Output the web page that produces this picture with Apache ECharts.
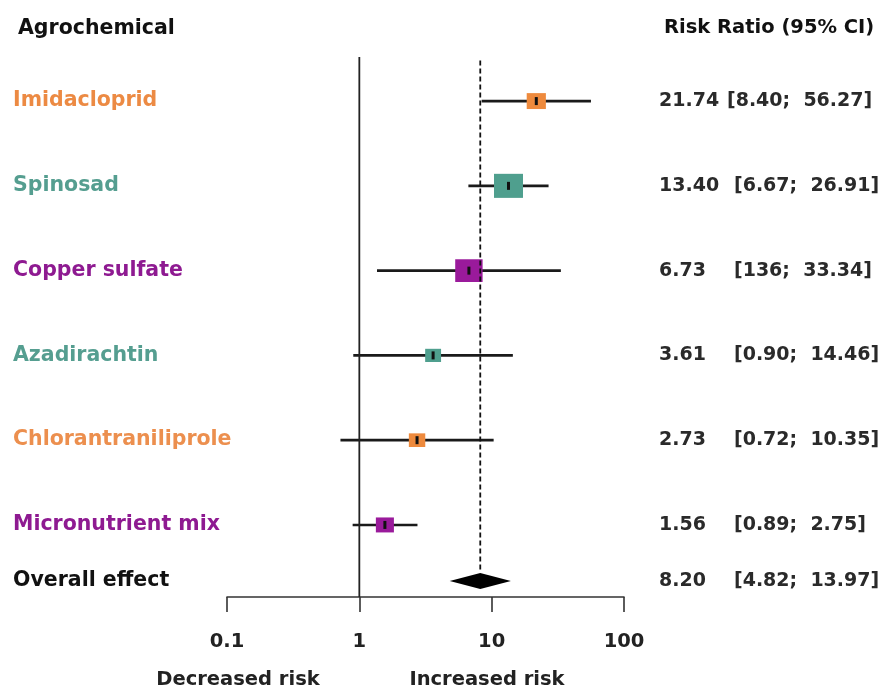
<!DOCTYPE html>
<html lang="en">
<head>
    <meta charset="utf-8">
    <title>Forest plot</title>
    <script src="https://cdn.jsdelivr.net/npm/echarts@6/dist/echarts.min.js"></script>
    <style>
        html, body {margin: 0; padding: 0; background: #fff;}
        #main {width: 887px; height: 690px;}
    </style>
</head>
<body>
<div id="main"></div>
<script type="text/javascript">
    // data
    var agrochemicals = ['Imidacloprid', 'Spinosad', 'Copper sulfate', 'Azadirachtin', 'Chlorantraniliprole', 'Micronutrient mix'];
    var riskRatio = [21.74, 13.40, 6.73, 3.61, 2.73, 1.56];
    var ciLower = [8.40, 6.67, 1.36, 0.90, 0.72, 0.89];
    var ciUpper = [56.27, 26.91, 33.34, 14.46, 10.35, 2.75];
    var weights = [13.1, 29.9, 26.7, 9.0, 9.6, 11.6];   // study weights (%), drive box size
    var estLabels = ['21.74', '13.40', '6.73', '3.61', '2.73', '1.56'];
    var ciLabels = ['[8.40;  56.27]', '[6.67;  26.91]', '[136;  33.34]', '[0.90;  14.46]', '[0.72;  10.35]', '[0.89;  2.75]'];
    var overallRR = 8.20;
    var overallCI = [4.82, 13.97];
    var overallLabels = ['8.20', '[4.82;  13.97]'];
    var xTicks = [0.1, 1, 10, 100];

    var colors = ['#ee8a3d', '#4f9f8e', '#9a1a9b', '#4f9f8e', '#ee8a3d', '#9a1a9b'];
    var labelColors = ['#ec8a43', '#559e90', '#8e1a91', '#559e90', '#ec8f4e', '#8e1a91'];
    var FONT = '"DejaVu Sans", "Open Sans", sans-serif';
    var yMin = -0.52, yMax = 5.85, overallRow = 5.66;

    var rows = [];
    for (var i = 0; i < riskRatio.length; i++) {
        rows.push([riskRatio[i], i, ciLower[i], ciUpper[i], weights[i], i]);
    }

    function txt(s, x, y, color, size) {
        return {
            type: 'text',
            style: {
                text: s, x: x, y: y, fill: color,
                fontSize: size || 20.5, fontWeight: 'bold', fontFamily: FONT,
                verticalAlign: 'middle', align: 'left'
            }
        };
    }

    function renderStudy(params, api) {
        var i = api.value(5);
        var row = api.value(1);
        var est = api.coord([api.value(0), row]);
        var lo = api.coord([api.value(2), row]);
        var hi = api.coord([api.value(3), row]);
        var w = 5.3 * Math.sqrt(api.value(4));
        var h = w * 0.83;
        return {
            type: 'group',
            children: [
                {type: 'line', shape: {x1: lo[0], y1: lo[1], x2: hi[0], y2: hi[1]},
                    style: {stroke: '#1a1a1a', lineWidth: 2.6}},
                {type: 'rect', shape: {x: est[0] - w / 2, y: est[1] - h / 2, width: w, height: h},
                    style: {fill: colors[i]}},
                {type: 'rect', shape: {x: est[0] - 1.5, y: est[1] - 4, width: 3, height: 8},
                    style: {fill: '#111'}},
                txt(agrochemicals[i], 13, est[1], labelColors[i]),
                txt(estLabels[i], 659, est[1], '#2a2a2a', 19),
                txt(ciLabels[i], i === 0 ? 727 : 734, est[1], '#2a2a2a', 19)
            ]
        };
    }

    function renderOverall(params, api) {
        var row = api.value(1);
        var c = api.coord([api.value(0), row]);
        var lo = api.coord([api.value(2), row]);
        var hi = api.coord([api.value(3), row]);
        var hh = 8;
        return {
            type: 'group',
            children: [
                {type: 'polygon', shape: {points: [[lo[0], c[1]], [c[0], c[1] - hh], [hi[0], c[1]], [c[0], c[1] + hh]]},
                    style: {fill: '#000'}},
                txt('Overall effect', 13, c[1], '#111'),
                txt(overallLabels[0], 659, c[1], '#2a2a2a', 19),
                txt(overallLabels[1], 734, c[1], '#2a2a2a', 19)
            ]
        };
    }

    var myChart = echarts.init(document.getElementById('main'));
    var option = {
        animation: false,
        grid: {left: 227, right: 263, top: 57, bottom: 93},
        xAxis: {
            type: 'log',
            logBase: 10,
            position: 'bottom',
            min: xTicks[0],
            max: xTicks[xTicks.length - 1],
            axisLine: {show: true, onZero: false, lineStyle: {color: '#333', width: 1.6}},
            axisTick: {show: true, length: 15, lineStyle: {color: '#333', width: 1.6}},
            splitLine: {show: false},
            minorTick: {show: false},
            axisLabel: {
                margin: 35, color: '#222', fontSize: 19.5, fontWeight: 'bold', fontFamily: FONT,
                formatter: function (v) { return String(+v.toPrecision(3)); }
            }
        },
        yAxis: {type: 'value', inverse: true, min: yMin, max: yMax, show: false},
        graphic: [
            {type: 'text', left: 18, top: 18, style: {text: 'Agrochemical', fill: '#111', fontSize: 20.5, fontWeight: 'bold', fontFamily: FONT}},
            {type: 'text', left: 664, top: 18, style: {text: 'Risk Ratio (95% CI)', fill: '#111', fontSize: 19.5, fontWeight: 'bold', fontFamily: FONT}},
            {type: 'text', x: 238, y: 680, style: {text: 'Decreased risk', fill: '#222', fontSize: 19.5, fontWeight: 'bold', fontFamily: FONT, align: 'center', verticalAlign: 'middle'}},
            {type: 'text', x: 487, y: 680, style: {text: 'Increased risk', fill: '#222', fontSize: 19.5, fontWeight: 'bold', fontFamily: FONT, align: 'center', verticalAlign: 'middle'}}
        ],
        series: [
            {
                type: 'line', symbol: 'none', silent: true,
                lineStyle: {color: '#222', width: 1.8},
                data: [[1, yMin], [1, yMax]]
            },
            {
                type: 'line', symbol: 'none', silent: true,
                lineStyle: {color: '#111', width: 1.8, type: [5, 3]},
                data: [[overallRR, yMin + 0.04], [overallRR, overallRow - 0.1]]
            },
            {
                type: 'custom', clip: false,
                renderItem: renderStudy,
                encode: {x: [0, 2, 3], y: 1},
                data: rows
            },
            {
                type: 'custom', clip: false,
                renderItem: renderOverall,
                encode: {x: [0, 2, 3], y: 1},
                data: [[overallRR, overallRow, overallCI[0], overallCI[1]]]
            }
        ]
    };
    myChart.setOption(option);
</script>
</body>
</html>
